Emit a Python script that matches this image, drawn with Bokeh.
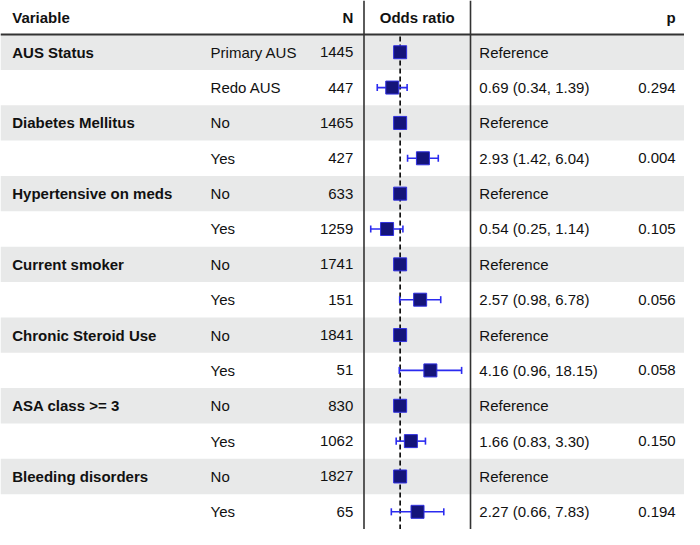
import math
from bokeh.plotting import figure
from bokeh.models import Range1d, LogScale, ColumnDataSource
from bokeh.core.properties import value
from bokeh.embed import file_html
from bokeh.resources import INLINE

# ---- data ----
variables = ["AUS Status", "", "Diabetes Mellitus", "", "Hypertensive on meds", "",
             "Current smoker", "", "Chronic Steroid Use", "", "ASA class >= 3", "",
             "Bleeding disorders", ""]
levels = ["Primary AUS", "Redo AUS", "No", "Yes", "No", "Yes", "No", "Yes",
          "No", "Yes", "No", "Yes", "No", "Yes"]
n_vals = [1445, 447, 1465, 427, 633, 1259, 1741, 151, 1841, 51, 830, 1062, 1827, 65]
odds = [1, 0.69, 1, 2.93, 1, 0.54, 1, 2.57, 1, 4.16, 1, 1.66, 1, 2.27]
ci_low = [None, 0.34, None, 1.42, None, 0.25, None, 0.98, None, 0.96, None, 0.83, None, 0.66]
ci_high = [None, 1.39, None, 6.04, None, 1.14, None, 6.78, None, 18.15, None, 3.30, None, 7.83]
p_vals = ["", "0.294", "", "0.004", "", "0.105", "", "0.056", "", "0.058", "", "0.150", "", "0.194"]
headers = ["Variable", "N", "Odds ratio", "p"]

# ---- layout (in reference pixel units horizontally, rows vertically) ----
W, H = 684, 529
XMAX = 700
nrows = len(levels)
head_h = 0.963
YMAX = nrows + head_h
panel_l, panel_r = 372, 481
or_lo, or_hi = 0.182, 27.6  # odds-ratio range shown in the middle panel

# extend the log range to the full width so the OR panel maps to [panel_l, panel_r]
k = (math.log(or_hi) - math.log(or_lo)) / (panel_r - panel_l)
full_lo = math.exp(math.log(or_lo) - k * panel_l)
full_hi = math.exp(math.log(or_hi) + k * (XMAX - panel_r))

p = figure(width=W, height=H, x_range=Range1d(0, XMAX), y_range=Range1d(0, YMAX),
           output_backend="svg", toolbar_location=None, min_border=0,
           outline_line_color=None, background_fill_color="white")
p.axis.visible = False
p.grid.visible = False
p.extra_x_ranges = {"or": Range1d(full_lo, full_hi)}
p.extra_x_scales = {"or": LogScale()}

yc = [nrows - 0.5 - i for i in range(nrows)]

# shaded rows
shade_y = [yc[i] for i in range(0, nrows, 2)]
p.rect(x=XMAX / 2, y=shade_y, width=XMAX, height=1, fill_color="#e8e9e9", line_color=None)

font = value("Liberation Sans")
fs = "15px"
tc = "#111111"

# header
p.text(x=[12], y=[nrows + head_h / 2], text=[headers[0]], text_font=font, text_font_size=fs,
       text_font_style="bold", text_baseline="middle", text_align="left", text_color=tc)
p.text(x=[361], y=[nrows + head_h / 2], text=[headers[1]], text_font=font, text_font_size=fs,
       text_font_style="bold", text_baseline="middle", text_align="right", text_color=tc)
p.text(x=[(panel_l + panel_r) / 2], y=[nrows + head_h / 2], text=[headers[2]], text_font=font,
       text_font_size=fs, text_font_style="bold", text_baseline="middle", text_align="center",
       text_color=tc)
p.text(x=[691], y=[nrows + head_h / 2], text=[headers[3]], text_font=font, text_font_size=fs,
       text_font_style="bold", text_baseline="middle", text_align="right", text_color=tc)

# table text
est_txt = []
for o, lo, hi in zip(odds, ci_low, ci_high):
    if lo is None:
        est_txt.append("Reference")
    else:
        est_txt.append(f"{o:.2f} ({lo:.2f}, {hi:.2f})")

src = ColumnDataSource(dict(y=yc, var=variables, lev=levels, n=[str(v) for v in n_vals],
                            est=est_txt, pv=p_vals))
p.text(x=12, y="y", text="var", source=src, text_font=font, text_font_size=fs,
       text_font_style="bold", text_baseline="middle", text_align="left", text_color=tc)
p.text(x=215, y="y", text="lev", source=src, text_font=font, text_font_size=fs,
       text_baseline="middle", text_align="left", text_color=tc)
p.text(x=361, y="y", text="n", source=src, text_font=font, text_font_size=fs,
       text_baseline="middle", text_align="right", text_color=tc)
p.text(x=490, y="y", text="est", source=src, text_font=font, text_font_size=fs,
       text_baseline="middle", text_align="left", text_color=tc)
p.text(x=691, y="y", text="pv", source=src, text_font=font, text_font_size=fs,
       text_baseline="middle", text_align="right", text_color=tc)

# grid lines
p.segment(x0=[0], y0=[nrows], x1=[XMAX], y1=[nrows], line_color="#333333", line_width=2)
p.segment(x0=[panel_l, panel_r], y0=[0, 0], x1=[panel_l, panel_r], y1=[YMAX, YMAX],
          line_color="#333333", line_width=1.6)

# reference line at OR = 1
p.segment(x0=[1], y0=[0], x1=[1], y1=[nrows], x_range_name="or", line_color="black",
          line_width=1.6, line_dash="5 3")

# CIs
ci_y = [yc[i] for i in range(nrows) if ci_low[i] is not None]
ci_l = [v for v in ci_low if v is not None]
ci_h = [v for v in ci_high if v is not None]
blue = "#2b2bf0"
p.segment(x0=ci_l, y0=ci_y, x1=ci_h, y1=ci_y, x_range_name="or", line_color=blue, line_width=1.6)
cap = 0.1
p.segment(x0=ci_l, y0=[y - cap for y in ci_y], x1=ci_l, y1=[y + cap for y in ci_y],
          x_range_name="or", line_color=blue, line_width=1.6)
p.segment(x0=ci_h, y0=[y - cap for y in ci_y], x1=ci_h, y1=[y + cap for y in ci_y],
          x_range_name="or", line_color=blue, line_width=1.6)

# point estimates
p.scatter(x=odds, y=yc, x_range_name="or", marker="square", size=13,
          fill_color="#14147a", line_color="#3030e0", line_width=1)

open("out.html", "w").write(file_html(p, INLINE))
